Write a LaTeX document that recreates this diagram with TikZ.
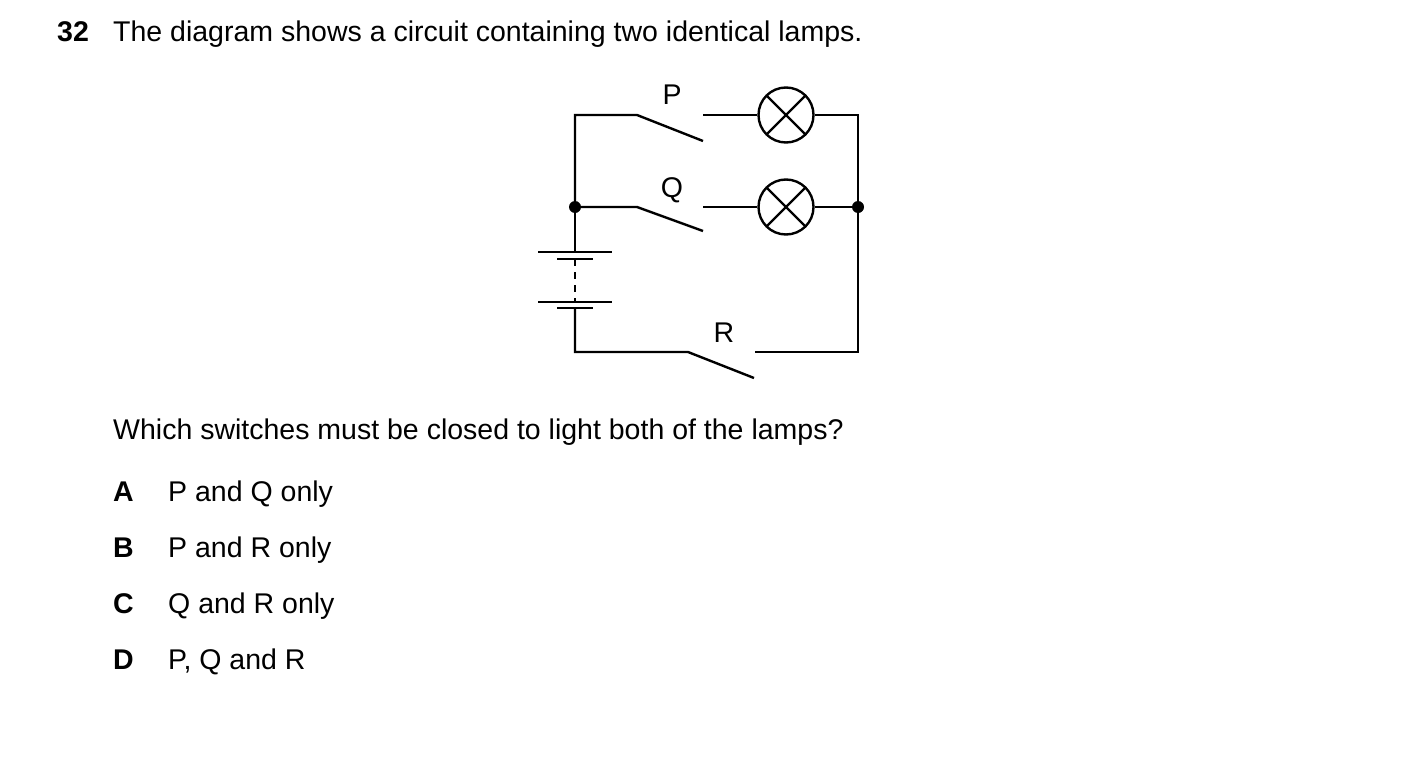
\documentclass[tikz,border=0pt]{standalone}
\usepackage{fontspec}
\setmainfont{Liberation Sans}
\begin{document}
\begin{tikzpicture}[x=1pt,y=-1pt,
  w/.style={line width=2.4pt},
  lamp/.style={circle,draw,line width=2.4pt,minimum size=55pt,inner sep=0pt,
    path picture={\draw[line width=2.4pt] (path picture bounding box.south west)--(path picture bounding box.north east)
      (path picture bounding box.north west)--(path picture bounding box.south east);}},
  dot/.style={circle,fill,inner sep=0pt,minimum size=12pt},
  txt/.style={anchor=base west,font=\fontsize{28.5}{34}\selectfont,inner sep=0pt},
  lbl/.style={font=\fontsize{28.5}{34}\selectfont,inner sep=0pt}]
\useasboundingbox (0,0) rectangle (1403,768);
\node[txt,font=\fontsize{28.5}{34}\selectfont\bfseries] (n) at (57,42) {32};
\node[txt] (t) at (113,42) {The diagram shows a circuit containing two identical lamps.};
\node[lamp] (L1) at (786,115) {};
\node[lamp] (L2) at (786,207) {};
\node[dot] (d1) at (575,207) {};
\node[dot] (d2) at (858,207) {};
\coordinate (tl) at (575,115);
\coordinate (tr) at (858,115);
\coordinate (bl) at (575,352);
\coordinate (br) at (858,352);
\coordinate (p1) at (637,115); \coordinate (p2) at (703,141); \coordinate (p3) at (703,115);
\coordinate (q1) at (637,207); \coordinate (q2) at (703,231); \coordinate (q3) at (703,207);
\coordinate (r1) at (688,352); \coordinate (r2) at (754,378); \coordinate (r3) at (755,352);
\draw[w] (d1) -- (tl) -- (p1) -- (p2);
\draw[w] (p3) -- (L1.west); \draw[w] (L1.east) -- (tr) -- (d2);
\draw[w] (d1) -- (q1) -- (q2);
\draw[w] (q3) -- (L2.west); \draw[w] (L2.east) -- (d2) -- (br) -- (r3);
\draw[w] (r2) -- (r1) -- (bl) -- (575,308);
\draw[w] (d1) -- (575,252);
\draw[w] (538,252) -- (612,252);
\draw[w] (557,259) -- (593,259);
\draw[w] (538,302) -- (612,302);
\draw[w] (557,308) -- (593,308);
\draw[w,dash pattern=on 7pt off 6pt] (575,259) -- (575,302);
\node[lbl] (P) at (672,95) {P};
\node[lbl] (Q) at (672,190) {Q};
\node[lbl] (R) at (724,333) {R};
\node[txt] (qq) at (113,439) {Which switches must be closed to light both of the lamps?};
\node[txt,font=\fontsize{28.5}{34}\selectfont\bfseries] (A) at (113,501) {A};
\node[txt] (a) at (168,501) {P and Q only};
\node[txt,font=\fontsize{28.5}{34}\selectfont\bfseries] (B) at (113,557) {B};
\node[txt] (b) at (168,557) {P and R only};
\node[txt,font=\fontsize{28.5}{34}\selectfont\bfseries] (C) at (113,613) {C};
\node[txt] (c) at (168,613) {Q and R only};
\node[txt,font=\fontsize{28.5}{34}\selectfont\bfseries] (D) at (113,669) {D};
\node[txt] (d) at (168,669) {P, Q and R};
\end{tikzpicture}
\end{document}
